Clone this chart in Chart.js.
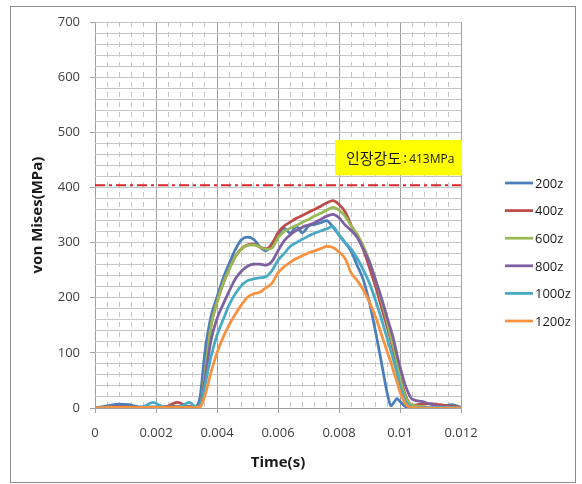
<!DOCTYPE html>
<html>
<head>
<meta charset="utf-8">
<script src="https://cdn.jsdelivr.net/npm/chart.js@4.4.1/dist/chart.umd.min.js"></script>
<style>
  html, body { margin: 0; padding: 0; background: #fff; }
  canvas { display: block; }
</style>
</head>
<body>
<canvas id="chart" width="582" height="484"></canvas>
<script>
// time (s), shared by all series
const TIME = [0, 0.0005, 0.0008, 0.0011, 0.0015, 0.0019, 0.0023, 0.0027, 0.0031, 0.0033,
  0.00345, 0.0036, 0.0038, 0.004, 0.0042, 0.0044, 0.0046, 0.0048, 0.005, 0.0052,
  0.0054, 0.0056, 0.0058, 0.006, 0.0062, 0.0064, 0.0066, 0.0068, 0.007, 0.0072,
  0.0074, 0.0076, 0.0078, 0.008, 0.0082, 0.0084, 0.0086, 0.0088, 0.009, 0.0092,
  0.0094, 0.0096, 0.0097, 0.0098, 0.0099, 0.01, 0.0102, 0.0104, 0.0107, 0.011,
  0.0113, 0.0117, 0.012];

// von Mises stress (MPa)
const S200 = [0, 5, 7, 6, 2, 2, 2, 2, 2, 3, 22, 100, 165, 201, 235, 262, 287, 305, 310, 306,
  293, 285, 298, 314, 326, 317, 329, 318, 330, 333, 336, 340, 328, 314, 300, 284, 258, 232, 191, 138,
  80, 22, 4, 10, 17, 12, 2, 1, 1, 1, 1, 6, 1];
const S400 = [0, 2, 3, 2, 1, 1, 2, 10, 2, 2, 5, 60, 148, 192, 225, 252, 275, 289, 296, 297,
  292, 289, 297, 318, 330, 337, 344, 349, 355, 360, 366, 372, 376, 369, 356, 331, 311, 287, 254, 220,
  181, 143, 122, 101, 78, 57, 20, 5, 7, 8, 6, 3, 1];
const S600 = [0, 2, 3, 2, 1, 1, 2, 3, 2, 2, 5, 60, 148, 192, 226, 252, 274, 288, 295, 296,
  292, 288, 290, 309, 320, 326, 331, 337, 342, 348, 353, 359, 364, 359, 348, 330, 315, 293, 266, 232,
  193, 152, 127, 108, 83, 54, 18, 5, 3, 1, 1, 1, 0];
const S800 = [0, 2, 3, 2, 1, 1, 2, 2, 2, 2, 4, 50, 122, 162, 188, 212, 234, 248, 257, 261,
  261, 259, 266, 285, 303, 314, 322, 328, 332, 336, 342, 348, 351, 345, 332, 322, 309, 288, 264, 232,
  198, 160, 142, 122, 97, 75, 37, 16, 12, 7, 3, 1, 0];
const S1000 = [0, 1, 1, 1, 1, 10, 1, 1, 10, 2, 5, 40, 92, 132, 160, 187, 207, 222, 231, 234,
  236, 238, 249, 268, 280, 293, 300, 306, 312, 317, 321, 325, 329, 313, 300, 288, 271, 250, 226, 195,
  160, 122, 104, 84, 64, 40, 10, 2, 1, 1, 1, 1, 0];
const S1200 = [0, 1, 1, 1, 1, 1, 1, 1, 1, 1, 2, 22, 64, 100, 128, 151, 170, 187, 201, 207,
  210, 218, 226, 245, 256, 264, 271, 276, 281, 285, 289, 293, 291, 283, 271, 245, 231, 214, 192, 165,
  132, 99, 83, 64, 48, 29, 6, 1, 0, 0, 0, 0, 0];

const SERIES = [S200, S400, S600, S800, S1000, S1200];
const SERIES_LABELS = ["200z", "400z", "600z", "800z", "1000z", "1200z"];
const SERIES_COLORS = ["#4A7EBB", "#BE4B48", "#98B954", "#7D60A0", "#46AAC5", "#F69240"];

const LIMIT_VALUE = 404;
const LIMIT_NAME = "인장강도";
const LIMIT_TEXT = "413MPa";

const X_MAJOR = 0.002;
const isMajorX = (v) => Math.abs(v / X_MAJOR - Math.round(v / X_MAJOR)) < 1e-6;
const fmtX = (v) => String(Number(v.toFixed(4)));

const FONT = "'Open Sans', 'Liberation Sans', sans-serif";

const datasets = SERIES.map((values, i) => ({
  label: SERIES_LABELS[i],
  data: values.map((v, j) => ({ x: TIME[j], y: v })),
  borderColor: SERIES_COLORS[i],
  backgroundColor: SERIES_COLORS[i],
  borderWidth: 2.75,
  pointRadius: 0,
  cubicInterpolationMode: "monotone",
  fill: false,
  order: SERIES.length - i + 1,
  inLegend: true,
}));

datasets.push({
  label: "limit",
  data: [{ x: 0, y: LIMIT_VALUE }, { x: 0.012, y: LIMIT_VALUE }],
  borderColor: "#D9262B",
  borderWidth: 2,
  borderDash: [10, 4, 3, 4],
  pointRadius: 0,
  fill: false,
  order: 0,
  inLegend: false,
});

const decor = {
  id: "decor",
  beforeDraw(chart) {
    const { ctx, width, height } = chart;
    ctx.save();
    ctx.fillStyle = "#fff";
    ctx.fillRect(0, 0, width, height);
    ctx.strokeStyle = "#8c8c8c";
    ctx.lineWidth = 1;
    ctx.strokeRect(10.5, 6.5, 565, 476);
    ctx.restore();
  },
  afterDraw(chart) {
    const { ctx, chartArea, scales } = chart;
    ctx.save();

    // legend
    let row = 0;
    chart.data.datasets.forEach((ds) => {
      if (!ds.inLegend) return;
      const y = chartArea.top + 161 + row * 27.6;
      const x0 = chartArea.right + 44;
      ctx.strokeStyle = ds.borderColor;
      ctx.lineWidth = 2.75;
      ctx.beginPath();
      ctx.moveTo(x0, y);
      ctx.lineTo(x0 + 28, y);
      ctx.stroke();
      ctx.fillStyle = "#1a1a1a";
      ctx.font = "13px " + FONT;
      ctx.textAlign = "left";
      ctx.textBaseline = "middle";
      ctx.fillText(ds.label, x0 + 30, y + 1);
      row++;
    });

    // tensile strength box
    const top = scales.y.getPixelForValue(486);
    const bottom = scales.y.getPixelForValue(422);
    const left = chartArea.right - 126;
    const right = chartArea.right + 1;
    ctx.fillStyle = "#FFFF00";
    ctx.fillRect(left, top, right - left, bottom - top);
    const cy = (top + bottom) / 2 + 1;
    ctx.fillStyle = "#1a1a1a";
    ctx.textBaseline = "middle";
    ctx.font = "15px 'Noto Sans CJK KR'";
    let x = left + 11;
    ctx.fillText(LIMIT_NAME, x, cy);
    x += ctx.measureText(LIMIT_NAME).width + 2;
    ctx.font = "15px " + FONT;
    ctx.fillText(":", x, cy);
    x += ctx.measureText(":").width + 2;
    ctx.font = "12px " + FONT;
    ctx.fillText(LIMIT_TEXT, x, cy + 1);

    ctx.restore();
  },
};

new Chart(document.getElementById("chart"), {
  type: "line",
  data: { datasets },
  plugins: [decor],
  options: {
    responsive: false,
    animation: false,
    devicePixelRatio: 1,
    layout: { padding: { left: 0, top: 22, right: 121, bottom: 0 } },
    plugins: { legend: { display: false }, tooltip: { enabled: false } },
    scales: {
      x: {
        type: "linear",
        min: 0,
        max: 0.012,
        ticks: {
          stepSize: 0.0004,
          autoSkip: false,
          maxRotation: 0,
          padding: 12,
          color: "#404040",
          font: { family: FONT, size: 13 },
          callback: (v) => (isMajorX(v) ? fmtX(v) : ""),
        },
        grid: {
          lineWidth: 1,
          tickLength: 5,
          color: (c) => (c.tick && isMajorX(c.tick.value) ? "#a0a0a0" : "#c6c6c6"),
          tickColor: (c) => (c.tick && isMajorX(c.tick.value) ? "#a0a0a0" : "rgba(0,0,0,0)"),
        },
        border: {
          display: false,
          dash: (c) => (c.tick && !isMajorX(c.tick.value) ? [5, 5] : []),
        },
        title: {
          display: true,
          text: "Time(s)",
          color: "#1a1a1a",
          font: { family: FONT, size: 15, weight: "bold" },
          padding: { top: 0, bottom: 12 },
        },
        afterFit: (s) => { s.height = 76; },
      },
      y: {
        min: 0,
        max: 700,
        ticks: {
          stepSize: 20,
          autoSkip: false,
          padding: 10,
          color: "#404040",
          font: { family: FONT, size: 13 },
          callback: (v) => (v % 100 === 0 ? String(v) : ""),
        },
        grid: {
          lineWidth: 1,
          tickLength: 5,
          color: (c) => (c.tick && c.tick.value === 0 ? "#a0a0a0" : "#c6c6c6"),
          tickColor: (c) => (c.tick && c.tick.value % 100 === 0 ? "#a0a0a0" : "rgba(0,0,0,0)"),
        },
        border: { display: false },
        title: {
          display: true,
          text: "von Mises(MPa)",
          color: "#1a1a1a",
          font: { family: FONT, size: 15, weight: "bold" },
          padding: { top: 29, bottom: 0 },
        },
        afterFit: (s) => { s.width = 95; },
      },
    },
  },
});
</script>
</body>
</html>
